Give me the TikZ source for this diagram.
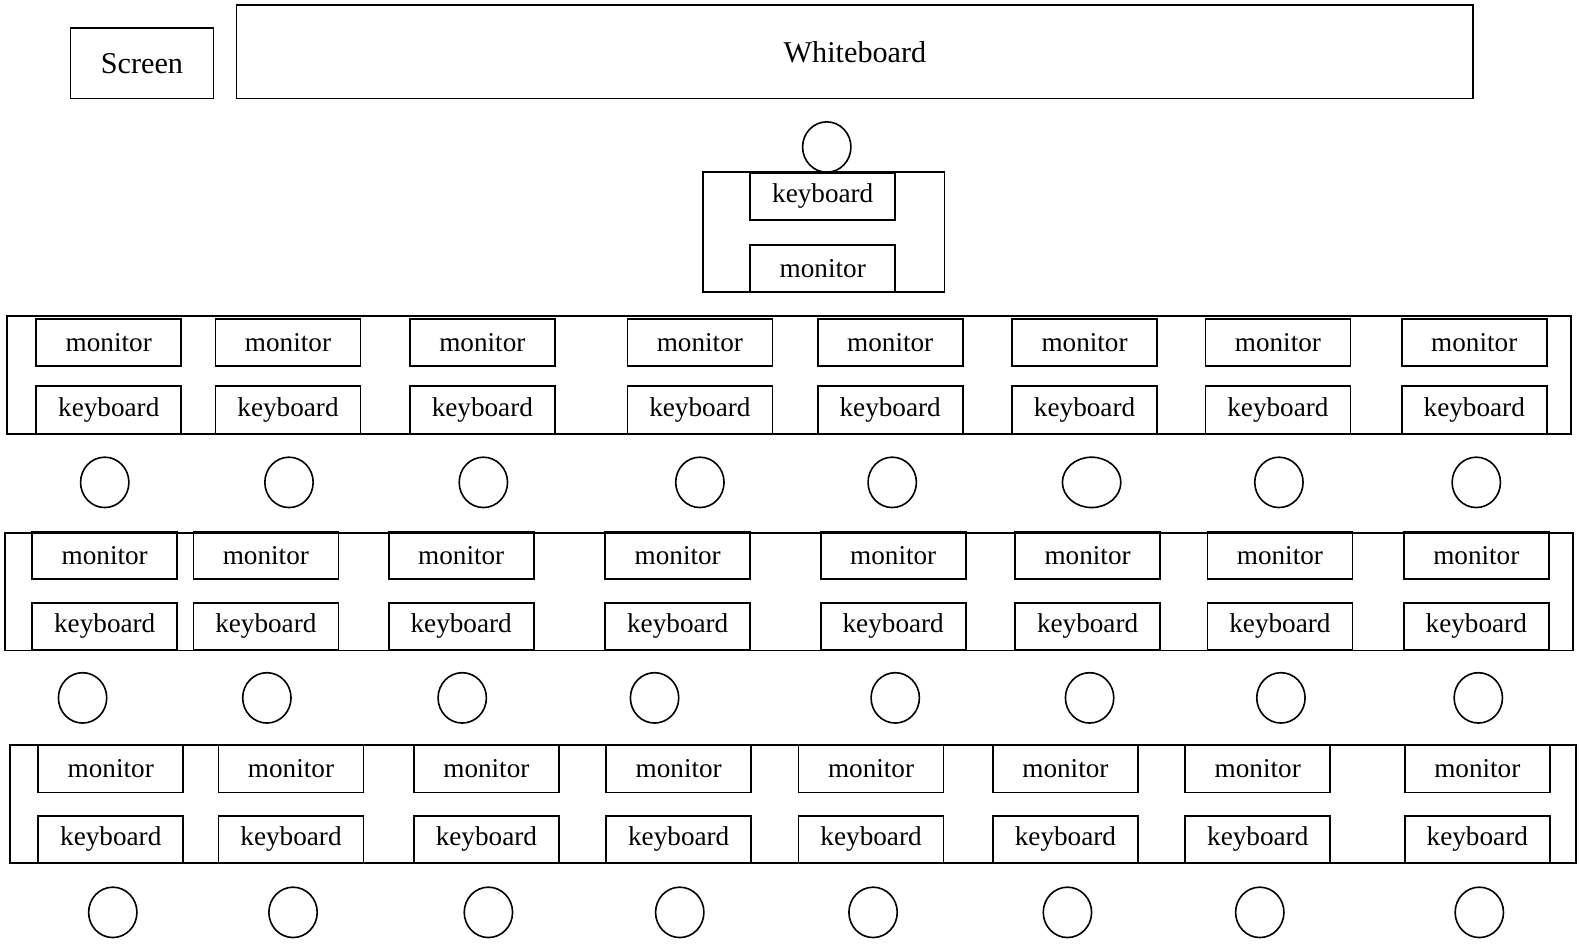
\documentclass[tikz,border=0pt]{standalone}
\usepackage{fontspec}
\setmainfont{Liberation Serif}
\usetikzlibrary{shapes.geometric}

\tikzset{
  dev/.style={draw,line width=1.6pt,minimum width=144pt,minimum height=47pt,inner sep=0pt,font=\fontsize{27}{29}\selectfont},
  seat/.style={draw,ellipse,line width=1.6pt,minimum width=48pt,minimum height=50pt,inner sep=0pt},
  desk/.style={draw,line width=1.6pt},
  board/.style={draw,line width=1.6pt,inner sep=0pt,font=\fontsize{30}{32}\selectfont}
}

\begin{document}
\begin{tikzpicture}[x=1pt,y=-1pt]
  \useasboundingbox (0,0) rectangle (1568,938);

  \node[board,minimum width=142pt,minimum height=70pt] (screen) at (141,63) {Screen};
  \node[board,minimum width=1228pt,minimum height=93pt] (wboard) at (849,51.5) {Whiteboard};

  % teacher
  \draw[desk] (698,171) rectangle (938,290);
  \node[dev] (tkey) at (817,195) {keyboard};
  \node[dev] (tmon) at (817,266.5) {monitor};
  \node[seat] (tseat) at (821,146) {};

  % student rows
  \foreach \r/\xa/\xb/\ya/\yb/\my/\ky/\lefts in {
      1/7/1560/314/431/340/407/{36,214,407,623,812,1005,1197,1392},
      2/5/1562/529/646/551.5/622/{32,192,386,601,815,1008,1199,1394},
      3/10/1565/740/857/763.5/833.5/{38,217,411,602,793,986,1177,1395}}{
    \draw[desk] (\xa,\ya) rectangle (\xb,\yb);
    \foreach \l [count=\c] in \lefts {
      \node[dev] (m\r\c) at (\l+72,\my) {monitor};
      \node[dev] (k\r\c) at (\l+72,\ky) {keyboard};
    }
  }

  \foreach \r/\sy/\xs in {
      1/479/{104,287,480,695,886,1084,1270,1466},
      2/693/{82,265,459,650,889,1082,1272,1468},
      3/906/{112,291,485,675,867,1060,1251,1469}}{
    \foreach \x [count=\c] in \xs {
      \ifnum\r\c=16 \def\sw{58}\else\def\sw{48}\fi
      \node[seat,minimum width=\sw pt] (s\r\c) at (\x,\sy) {};
    }
  }
\end{tikzpicture}
\end{document}
